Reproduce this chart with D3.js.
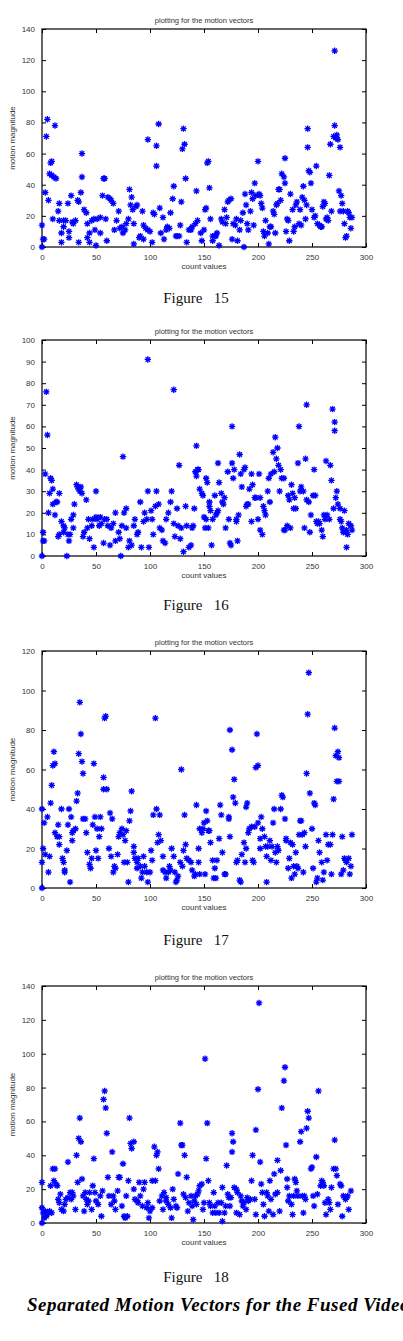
<!DOCTYPE html>
<html>
<head>
<meta charset="utf-8">
<script src="https://cdn.jsdelivr.net/npm/d3@7"></script>
<style>
  body { margin: 0; background: #fff; }
  svg { display: block; }
</style>
</head>
<body>
<script>
// [count value, motion magnitude]
const fig15 = [[0,0],[0,14],[1,5],[2,5],[3,35],[4,71],[5,82],[6,30],[7,47],[8,54],[9,55],[9,46],[10,18],[11,45],[12,78],[13,44],[15,23],[16,28],[16,17],[18,9],[18,3],[20,13],[20,17],[22,17],[24,28],[25,10],[25,6],[27,33],[28,16],[29,15],[31,17],[33,30],[34,29],[34,3],[36,35],[37,60],[37,45],[39,24],[41,22],[42,15],[42,6],[44,3],[44,9],[46,17],[48,18],[49,11],[50,1],[51,18],[54,9],[54,19],[56,33],[57,44],[58,44],[59,18],[60,4],[61,32],[63,31],[64,30],[66,28],[67,11],[69,17],[71,23],[72,12],[74,13],[75,9],[77,11],[78,15],[80,18],[81,37],[82,27],[83,32],[84,24],[85,2],[85,15],[87,26],[88,27],[90,6],[91,7],[93,23],[94,14],[94,5],[96,12],[98,69],[98,11],[100,10],[102,3],[103,22],[104,21],[106,52],[106,65],[108,79],[109,25],[110,9],[112,19],[113,5],[115,11],[116,13],[118,12],[119,22],[121,31],[122,39],[124,7],[125,7],[127,7],[128,14],[129,29],[130,63],[131,76],[132,66],[133,44],[134,3],[136,11],[138,11],[139,13],[142,15],[143,36],[144,17],[147,9],[148,4],[150,11],[151,24],[152,25],[153,54],[154,55],[155,38],[156,18],[158,7],[158,4],[160,7],[161,7],[162,9],[164,1],[166,18],[167,16],[169,24],[170,15],[171,19],[172,29],[173,30],[175,31],[176,5],[177,15],[179,14],[180,18],[181,4],[183,11],[184,17],[186,22],[187,0],[188,34],[189,27],[190,15],[191,11],[193,23],[194,35],[195,31],[196,14],[197,41],[198,33],[200,55],[201,34],[202,33],[203,28],[204,25],[205,10],[206,7],[207,17],[209,9],[210,2],[211,13],[212,13],[214,23],[215,21],[216,9],[217,27],[218,28],[219,37],[220,37],[221,30],[222,47],[224,45],[225,57],[225,41],[226,10],[227,18],[228,17],[229,4],[230,34],[232,24],[233,10],[234,13],[235,27],[236,29],[238,15],[239,24],[240,14],[241,32],[242,39],[243,30],[244,18],[245,27],[246,64],[246,76],[247,49],[248,48],[249,41],[250,24],[252,19],[253,20],[254,52],[255,15],[257,14],[258,13],[259,13],[260,26],[261,29],[262,28],[263,18],[264,19],[265,17],[266,46],[267,66],[268,23],[270,71],[271,78],[271,126],[272,70],[273,72],[274,69],[275,36],[276,64],[276,23],[277,33],[278,28],[279,23],[280,15],[281,6],[282,7],[283,23],[284,22],[285,19],[286,12],[287,19]];

const fig16 = [[0,0],[1,11],[1,7],[2,7],[3,38],[4,76],[5,56],[6,20],[7,29],[8,36],[9,35],[10,31],[10,24],[12,19],[13,25],[14,25],[15,9],[16,29],[16,10],[18,16],[20,14],[20,11],[21,13],[23,0],[24,10],[25,7],[26,10],[27,17],[29,19],[29,13],[30,24],[32,33],[33,32],[34,31],[35,30],[36,32],[37,29],[38,9],[39,11],[41,26],[42,13],[43,17],[44,8],[46,14],[47,17],[48,4],[50,30],[50,18],[51,17],[53,14],[54,18],[55,15],[57,6],[58,17],[60,17],[61,14],[63,5],[64,13],[66,15],[68,7],[68,20],[71,11],[72,8],[73,0],[74,14],[75,46],[76,20],[78,22],[78,13],[80,4],[81,7],[83,5],[85,14],[86,17],[88,10],[89,11],[91,25],[92,4],[94,16],[95,20],[97,17],[98,91],[98,30],[99,4],[101,21],[102,17],[103,10],[105,23],[106,30],[108,24],[109,13],[111,12],[112,7],[114,6],[115,17],[117,20],[119,25],[120,30],[122,77],[122,15],[123,9],[125,22],[126,14],[127,42],[128,8],[129,13],[131,2],[133,23],[134,14],[136,4],[143,51],[138,5],[139,13],[140,14],[141,22],[142,39],[143,37],[144,40],[145,40],[146,31],[148,29],[149,28],[150,18],[151,13],[152,17],[152,36],[153,34],[154,13],[155,25],[155,23],[156,21],[157,5],[158,17],[160,28],[161,19],[162,20],[163,21],[163,43],[164,34],[166,29],[167,25],[168,24],[169,27],[170,13],[172,39],[173,17],[174,6],[175,5],[176,60],[176,43],[177,36],[178,40],[180,17],[180,16],[181,7],[182,19],[183,47],[184,38],[185,32],[187,40],[188,41],[189,23],[190,24],[191,24],[192,31],[194,38],[194,16],[195,33],[197,27],[198,27],[200,17],[201,38],[202,27],[202,12],[204,10],[205,23],[206,21],[207,19],[209,30],[210,36],[211,25],[212,38],[214,48],[215,39],[216,55],[217,45],[218,50],[219,42],[220,30],[221,40],[222,36],[224,36],[224,12],[225,12],[227,14],[228,28],[229,26],[230,13],[231,33],[232,29],[233,22],[234,27],[235,22],[237,43],[238,60],[239,30],[240,32],[242,30],[243,13],[244,45],[245,70],[245,26],[247,25],[248,11],[249,19],[251,28],[252,40],[253,28],[254,16],[255,15],[256,16],[257,15],[259,12],[260,9],[261,19],[262,17],[263,44],[264,19],[266,17],[267,42],[268,35],[269,68],[270,22],[271,62],[271,58],[272,27],[273,30],[274,24],[276,22],[276,17],[277,16],[278,13],[279,11],[280,21],[281,11],[282,4],[282,12],[283,10],[284,15],[286,14],[287,12]];

const fig17 = [[0,0],[0,40],[0,13],[1,20],[2,33],[3,17],[5,36],[6,8],[7,16],[8,43],[9,52],[10,62],[11,69],[12,63],[12,28],[14,26],[15,32],[16,22],[16,26],[18,40],[19,15],[20,13],[21,9],[21,8],[23,19],[24,32],[25,40],[26,3],[27,36],[28,24],[28,28],[29,29],[31,30],[32,44],[33,48],[34,68],[35,94],[36,78],[37,64],[38,58],[38,35],[40,35],[41,28],[42,18],[44,12],[45,10],[46,15],[47,32],[48,63],[49,36],[50,19],[51,30],[52,15],[53,26],[54,36],[55,30],[57,56],[57,50],[58,86],[59,87],[60,50],[62,20],[63,38],[64,16],[65,35],[66,8],[67,11],[68,10],[70,17],[71,26],[72,28],[74,30],[75,27],[76,13],[77,24],[78,29],[79,13],[80,3],[81,34],[82,39],[83,49],[85,21],[85,18],[86,15],[88,13],[88,10],[89,15],[91,11],[92,5],[93,8],[94,16],[95,11],[97,8],[98,3],[100,8],[101,19],[102,14],[103,37],[105,86],[106,40],[107,23],[108,27],[109,37],[110,24],[112,16],[112,9],[114,8],[115,5],[117,8],[118,11],[119,9],[120,20],[122,16],[123,8],[124,3],[125,4],[126,6],[128,13],[129,60],[130,11],[131,19],[132,37],[133,22],[134,15],[136,14],[143,42],[145,20],[146,30],[138,13],[139,9],[141,6],[142,7],[145,13],[146,7],[148,28],[149,30],[150,33],[151,7],[152,39],[153,34],[154,29],[155,29],[156,23],[158,14],[159,5],[160,10],[161,5],[162,14],[164,25],[165,42],[166,37],[167,18],[169,7],[170,7],[173,36],[173,35],[174,26],[174,80],[176,70],[177,46],[178,55],[179,43],[180,13],[181,14],[183,4],[184,3],[185,17],[187,23],[188,13],[189,20],[189,41],[190,43],[191,28],[192,30],[194,31],[195,14],[196,13],[197,31],[198,61],[199,78],[200,62],[200,33],[202,25],[202,20],[203,36],[204,30],[206,26],[207,21],[208,16],[208,3],[209,21],[211,24],[212,14],[213,21],[214,33],[215,40],[216,18],[217,13],[218,21],[219,19],[221,40],[222,47],[223,46],[225,35],[226,25],[226,24],[228,10],[229,15],[230,23],[231,5],[232,22],[233,11],[234,7],[235,18],[236,11],[237,10],[238,27],[239,34],[240,34],[241,27],[242,8],[243,28],[244,21],[245,58],[246,88],[247,109],[248,48],[250,30],[251,10],[252,43],[253,42],[254,3],[255,5],[256,24],[257,18],[259,13],[260,4],[261,8],[263,27],[264,14],[265,22],[267,22],[268,7],[269,27],[270,45],[271,81],[272,67],[273,54],[274,69],[275,66],[275,54],[277,7],[278,26],[279,9],[280,15],[281,14],[282,13],[284,15],[285,7],[286,11],[287,27]];

const fig18 = [[0,0],[0,24],[0,9],[1,6],[2,3],[3,7],[4,4],[5,6],[6,6],[7,7],[8,22],[9,6],[10,32],[11,25],[12,32],[13,23],[14,22],[15,14],[16,12],[17,17],[18,8],[20,7],[21,11],[22,14],[24,36],[24,15],[26,18],[27,14],[28,18],[29,16],[31,8],[32,40],[33,24],[34,50],[35,62],[36,48],[37,26],[38,16],[39,7],[40,18],[41,14],[42,11],[43,13],[44,18],[46,8],[47,22],[48,38],[49,18],[50,13],[52,11],[54,16],[55,4],[56,19],[57,73],[58,78],[59,68],[60,53],[61,27],[62,16],[64,11],[65,42],[66,16],[67,13],[68,8],[70,19],[71,27],[72,27],[74,10],[75,35],[76,4],[77,3],[78,16],[79,4],[80,25],[81,62],[82,47],[83,44],[85,48],[85,20],[86,14],[88,13],[89,12],[90,24],[91,16],[93,10],[94,20],[95,24],[97,9],[98,12],[99,3],[100,7],[102,9],[102,25],[104,45],[105,25],[106,40],[107,42],[108,32],[109,13],[111,16],[112,8],[113,18],[115,15],[115,13],[117,11],[119,9],[120,3],[121,20],[122,14],[124,10],[125,9],[126,29],[128,59],[129,46],[130,46],[131,17],[132,40],[133,15],[134,27],[135,7],[136,12],[138,16],[139,10],[140,2],[141,13],[142,16],[143,11],[144,17],[145,19],[146,22],[148,23],[149,8],[150,12],[151,97],[152,38],[153,59],[154,25],[155,12],[156,10],[158,6],[159,18],[160,10],[161,6],[163,12],[164,6],[166,12],[167,1],[167,21],[169,6],[170,10],[171,34],[172,17],[173,15],[174,10],[175,15],[176,42],[176,53],[177,48],[178,21],[180,20],[180,6],[181,18],[183,5],[184,16],[185,13],[186,10],[187,12],[189,8],[190,15],[191,13],[193,14],[194,25],[195,40],[197,14],[198,55],[198,5],[200,79],[201,130],[202,36],[203,23],[204,18],[205,11],[206,4],[208,18],[209,16],[210,7],[211,25],[212,14],[214,5],[215,29],[216,17],[218,37],[218,18],[220,7],[221,31],[222,68],[224,84],[225,92],[226,46],[227,26],[227,21],[228,13],[229,16],[231,11],[232,5],[233,16],[234,26],[235,24],[236,19],[237,16],[239,48],[240,54],[241,16],[242,6],[243,16],[244,14],[245,56],[246,66],[247,62],[249,32],[250,33],[251,16],[252,10],[254,39],[255,17],[256,78],[258,22],[259,25],[260,24],[261,22],[262,12],[263,5],[265,14],[266,12],[267,8],[268,21],[270,32],[271,49],[272,32],[273,28],[274,11],[276,23],[277,22],[278,4],[279,16],[281,14],[282,15],[283,16],[284,8],[286,19]];

const xTicks = [0, 50, 100, 150, 200, 250, 300];
const yTicks15 = [0, 20, 40, 60, 80, 100, 120, 140];
const yTicks16 = [0, 10, 20, 30, 40, 50, 60, 70, 80, 90, 100];
const yTicks17 = [0, 20, 40, 60, 80, 100, 120];
const yTicks18 = [0, 20, 40, 60, 80, 100, 120, 140];
const figNames = ["15", "16", "17", "18"];
const titleText = "plotting for the motion vectors";
const xLabel = "count values";
const yLabel = "motion magnitude";
const caption = "Separated Motion Vectors for the Fused Video";

const width = 403, height = 1341;
const left = 42, right = 366;

const panels = [
  {data: fig15, ticks: yTicks15, top: 29,  bottom: 247,  figY: 303},
  {data: fig16, ticks: yTicks16, top: 340, bottom: 556,  figY: 610},
  {data: fig17, ticks: yTicks17, top: 651, bottom: 888,  figY: 945},
  {data: fig18, ticks: yTicks18, top: 986, bottom: 1223, figY: 1282}
];

const svg = d3.select("body").append("svg")
  .attr("width", width)
  .attr("height", height)
  .attr("viewBox", [0, 0, width, height]);

svg.append("rect").attr("width", width).attr("height", height).attr("fill", "#fff");

const star = "M-3.2,0H3.2M0,-3.2V3.2M-2.3,-2.3L2.3,2.3M-2.3,2.3L2.3,-2.3";
const sans = "'Liberation Sans', Arial, sans-serif";
const serif = "'Liberation Serif', 'Times New Roman', serif";

panels.forEach((p, i) => {
  const x = d3.scaleLinear().domain([0, 300]).range([left, right]);
  const y = d3.scaleLinear().domain([0, d3.max(p.ticks)]).range([p.bottom, p.top]);
  const g = svg.append("g");

  // axes, ticks pointing inward on all four sides
  const tk = -4;
  g.append("g").attr("transform", `translate(0,${p.bottom})`)
    .call(d3.axisBottom(x).tickValues(xTicks).tickSize(tk).tickPadding(7));
  g.append("g").attr("transform", `translate(0,${p.top})`)
    .call(d3.axisTop(x).tickValues(xTicks).tickSize(tk).tickFormat(""));
  g.append("g").attr("transform", `translate(${left},0)`)
    .call(d3.axisLeft(y).tickValues(p.ticks).tickSize(tk).tickPadding(7));
  g.append("g").attr("transform", `translate(${right},0)`)
    .call(d3.axisRight(y).tickValues(p.ticks).tickSize(tk).tickFormat(""));

  g.selectAll(".domain").remove();
  g.selectAll(".tick line").attr("stroke", "#000").attr("stroke-width", 1);
  g.selectAll(".tick text")
    .attr("font-family", sans).attr("font-size", 8).attr("fill", "#333");

  g.append("rect")
    .attr("x", left).attr("y", p.top)
    .attr("width", right - left).attr("height", p.bottom - p.top)
    .attr("fill", "none").attr("stroke", "#000").attr("stroke-width", 1.2);

  g.append("text")
    .attr("x", (left + right) / 2).attr("y", p.top - 6)
    .attr("text-anchor", "middle")
    .attr("font-family", sans).attr("font-size", 7.5).attr("fill", "#333")
    .text(titleText);

  g.append("text")
    .attr("x", (left + right) / 2).attr("y", p.bottom + 22)
    .attr("text-anchor", "middle")
    .attr("font-family", sans).attr("font-size", 8).attr("fill", "#333")
    .text(xLabel);

  g.append("text")
    .attr("transform", `translate(15,${(p.top + p.bottom) / 2}) rotate(-90)`)
    .attr("text-anchor", "middle")
    .attr("font-family", sans).attr("font-size", 8).attr("fill", "#333")
    .text(yLabel);

  g.append("g").selectAll("path")
    .data(p.data)
    .join("path")
    .attr("transform", d => `translate(${x(d[0])},${y(d[1])})`)
    .attr("d", star)
    .attr("fill", "none")
    .attr("stroke", "#0000ff")
    .attr("stroke-width", 1.3);

  svg.append("text")
    .attr("x", 196).attr("y", p.figY)
    .attr("text-anchor", "middle")
    .attr("xml:space", "preserve")
    .style("white-space", "pre")
    .attr("font-family", serif).attr("font-size", 15).attr("fill", "#111")
    .text("Figure   " + figNames[i]);
});

svg.append("text")
  .attr("x", 27).attr("y", 1311)
  .attr("font-family", serif).attr("font-size", 19)
  .attr("letter-spacing", 0.5)
  .attr("font-weight", "bold").attr("font-style", "italic")
  .attr("fill", "#000")
  .text(caption);
</script>
</body>
</html>
